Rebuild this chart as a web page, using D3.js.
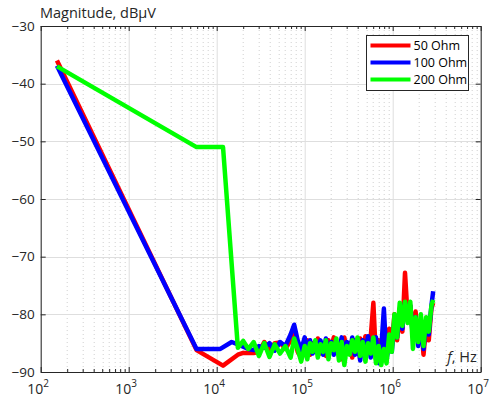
<!DOCTYPE html>
<html>
<head>
<meta charset="utf-8">
<script src="https://cdn.jsdelivr.net/npm/d3@7"></script>
<style>
  body { margin: 0; background: #fff; }
  svg { display: block; font-family: "Open Sans", sans-serif; }
  .axis path, .axis line { stroke: #262626; }
  .axis text { fill: #262626; font-size: 13px; font-family: "Open Sans", sans-serif; }
</style>
</head>
<body>
<svg width="490" height="398"></svg>
<script>
/* chart data */
var seriesNames = ["50 Ohm", "100 Ohm", "200 Ohm"];
var seriesColors = ["#ff0000", "#0000ff", "#00ff00"];

// leading (smooth) part of each trace
var redHeadF = [153, 5900, 11800],
    redHeadV = [-36.0, -86.2, -88.9];
var blueHeadF = [153, 5900, 11000, 14800],
    blueHeadV = [-36.9, -86.0, -86.0, -84.8];
var greenHeadF = [153, 5900, 11800],
    greenHeadV = [-37.0, -51.0, -51.0];

// shared frequency grid of the noisy part, Hz
var noiseF = [17400, 20000, 22900, 26300, 30200, 34700, 39800, 45700, 52500, 60300,
    69200, 75900, 83200, 91200, 100000,
    107000, 115000, 123000, 132000, 141000, 151000, 162000, 174000, 186000, 200000,
    214000, 229000, 245000, 263000, 282000, 302000, 324000, 347000, 372000, 398000,
    427000, 457000, 490000, 525000, 562000, 603000, 646000, 692000, 741000, 794000,
    851000, 912000, 977000, 1047000, 1122000, 1202000, 1288000, 1380000, 1479000, 1585000,
    1698000, 1820000, 1950000, 2089000, 2239000, 2399000, 2570000, 2754000, 2884000];

var redNoise = [-87.0, -86.7, -86.7, -86.7, -86.5, -84.8, -86.2, -85.0, -84.9, -86.0,
    -84.5, -83.5, -86.5, -87.5, -85.0,
    -84.5, -87.0, -85.0, -86.5, -84.2, -86.8, -85.0, -87.2, -84.5, -86.0,
    -84.0, -86.5, -85.2, -87.8, -84.0, -86.5, -85.0, -87.5, -84.5, -86.8,
    -84.2, -86.0, -83.8, -86.5, -84.0, -78.0, -87.8, -84.5, -86.5, -84.0,
    -87.5, -82.5, -85.5, -80.0, -84.5, -79.0, -83.0, -72.8, -80.5, -78.5,
    -83.5, -79.5, -84.5, -81.0, -87.0, -82.0, -84.5, -79.0, -78.0];

var blueNoise = [-85.2, -85.6, -86.0, -86.2, -85.5, -85.8, -85.0, -86.3, -84.8, -85.5,
    -83.5, -81.8, -84.5, -86.2, -84.0,
    -86.5, -84.5, -86.8, -84.8, -86.0, -84.5, -87.0, -84.2, -86.5, -84.8,
    -87.0, -85.0, -86.5, -84.0, -87.5, -84.8, -86.8, -84.0, -87.0, -85.0,
    -88.0, -84.5, -86.5, -83.8, -87.5, -85.0, -84.0, -88.5, -86.0, -79.0,
    -88.0, -84.5, -86.5, -81.0, -84.0, -79.5, -82.5, -78.0, -80.5, -78.5,
    -84.0, -80.5, -85.5, -81.5, -86.0, -81.0, -83.5, -78.5, -76.0];

var greenNoise = [-85.8, -84.6, -86.0, -84.8, -87.2, -85.0, -87.4, -85.2, -86.8, -85.5,
    -87.5, -84.2, -86.0, -88.2, -85.5,
    -87.8, -85.0, -86.5, -84.5, -87.5, -85.2, -86.5, -84.5, -87.8, -85.0,
    -86.2, -84.2, -88.0, -84.8, -88.8, -85.5, -87.0, -84.5, -86.5, -84.0,
    -87.2, -84.8, -88.2, -85.0, -86.8, -84.0, -88.5, -85.5, -88.8, -86.0,
    -88.5, -83.5, -86.5, -80.0, -84.0, -78.0, -82.0, -77.8, -81.5, -77.8,
    -86.0, -80.5, -84.8, -80.0, -85.5, -80.5, -83.0, -78.5, -77.5];

// axis ticks
var xDecades = [1e2, 1e3, 1e4, 1e5, 1e6, 1e7];
var xExponents = ["2", "3", "4", "5", "6", "7"];
var yTicks = [-90, -80, -70, -60, -50, -40, -30];

/* boiler plate variable set up */
var svg = d3.select("svg"),
    margin = {top: 26, right: 9.3, bottom: 26, left: 40.7},
    width = svg.attr("width") - margin.left - margin.right,
    height = svg.attr("height") - margin.top - margin.bottom,
    g = svg.append("g").attr("transform",
        "translate(" + margin.left + "," + margin.top + ")");

var x = d3.scaleLog().domain([1e2, 1e7]).range([0, width]),
    y = d3.scaleLinear().domain([-90, -30]).range([height, 0]);

// minor tick positions 2..9 in every decade
var xMinor = [];
xDecades.slice(0, -1).forEach(function(d) {
    for (var k = 2; k <= 9; k++) xMinor.push(d * k);
});

/* grid */
g.selectAll(".gminor").data(xMinor).enter().append("line")
    .attr("class", "gminor")
    .attr("x1", function(d) { return Math.round(x(d)) + 0.5; })
    .attr("x2", function(d) { return Math.round(x(d)) + 0.5; })
    .attr("y1", 0).attr("y2", height)
    .style("stroke", "#d0d0d0")
    .style("stroke-dasharray", "1,3");

g.selectAll(".gmajx").data(xDecades).enter().append("line")
    .attr("class", "gmajx")
    .attr("x1", function(d) { return Math.round(x(d)) + 0.5; })
    .attr("x2", function(d) { return Math.round(x(d)) + 0.5; })
    .attr("y1", 0).attr("y2", height)
    .style("stroke", "#dedede");

g.selectAll(".gmajy").data(yTicks).enter().append("line")
    .attr("class", "gmajy")
    .attr("x1", 0).attr("x2", width)
    .attr("y1", function(d) { return Math.round(y(d)) + 0.5; })
    .attr("y2", function(d) { return Math.round(y(d)) + 0.5; })
    .style("stroke", "#dedede");

/* traces */
function buildSeries(hf, hv, nv) {
    var pts = hf.map(function(f, i) { return {f: f, v: hv[i]}; });
    return pts.concat(noiseF.map(function(f, i) { return {f: f, v: nv[i]}; }));
}
var dataset = [
    buildSeries(redHeadF, redHeadV, redNoise),
    buildSeries(blueHeadF, blueHeadV, blueNoise),
    buildSeries(greenHeadF, greenHeadV, greenNoise)
];

var line = d3.line()
    .x(function(d) { return x(d.f); })
    .y(function(d) { return y(d.v); });

g.selectAll(".trace").data(dataset).enter().append("path")
    .attr("class", "trace")
    .attr("d", line)
    .style("fill", "none")
    .style("stroke", function(d, i) { return seriesColors[i]; })
    .style("stroke-width", 4.5)
    .style("stroke-linejoin", "round");

/* axes, ticks inward on all four sides */
var xAxis = g.append("g")
    .attr("class", "axis")
    .attr("transform", "translate(0," + height + ")")
    .call(d3.axisBottom(x).tickValues(xDecades).tickSize(-5).tickSizeOuter(0).tickPadding(6));

xAxis.selectAll("text")
    .attr("y", 22).attr("dy", null).attr("dx", -3)
    .style("font-size", "14px")
    .text("10")
    .append("tspan")
    .attr("dy", -7)
    .style("font-size", "10px")
    .text(function(d, i) { return xExponents[i]; });

g.append("g").attr("class", "axis")
    .attr("transform", "translate(0," + height + ")")
    .call(d3.axisBottom(x).tickValues(xMinor).tickSize(-3).tickSizeOuter(0).tickFormat(""))
    .select(".domain").remove();

g.append("g").attr("class", "axis")
    .call(d3.axisTop(x).tickValues(xDecades).tickSize(-5).tickSizeOuter(0).tickFormat(""));
g.append("g").attr("class", "axis")
    .call(d3.axisTop(x).tickValues(xMinor).tickSize(-3).tickSizeOuter(0).tickFormat(""))
    .select(".domain").remove();

g.append("g").attr("class", "axis")
    .call(d3.axisLeft(y).tickValues(yTicks).tickSize(-5).tickSizeOuter(0).tickPadding(6))
    .selectAll("text").style("font-size", "13.5px");

g.append("g").attr("class", "axis")
    .attr("transform", "translate(" + width + ",0)")
    .call(d3.axisRight(y).tickValues(yTicks).tickSize(-5).tickSizeOuter(0).tickFormat(""));

/* labels */
svg.append("text")
    .attr("x", 40).attr("y", 18)
    .style("font-size", "14.5px")
    .style("fill", "#262626")
    .text("Magnitude, dBμV");

var fl = g.append("text")
    .attr("x", width - 4).attr("y", height - 10)
    .attr("text-anchor", "end")
    .style("font-size", "14.5px")
    .style("fill", "#262626");
fl.append("tspan").style("font-style", "italic").text("f");
fl.append("tspan").text(", Hz");

/* legend */
var legend = svg.append("g").attr("transform", "translate(366.5,35.5)");
legend.append("rect")
    .attr("width", 102).attr("height", 55)
    .style("fill", "#fff")
    .style("stroke", "#262626")
    .style("stroke-width", 1);

seriesNames.forEach(function(name, i) {
    var row = legend.append("g").attr("transform", "translate(0," + (10 + i * 17) + ")");
    row.append("line")
        .attr("x1", 4).attr("x2", 44)
        .style("stroke", seriesColors[i])
        .style("stroke-width", 4);
    row.append("text")
        .attr("x", 47).attr("y", 4.5)
        .style("font-size", "12.5px")
        .style("fill", "#000")
        .text(name);
});
</script>
</body>
</html>
